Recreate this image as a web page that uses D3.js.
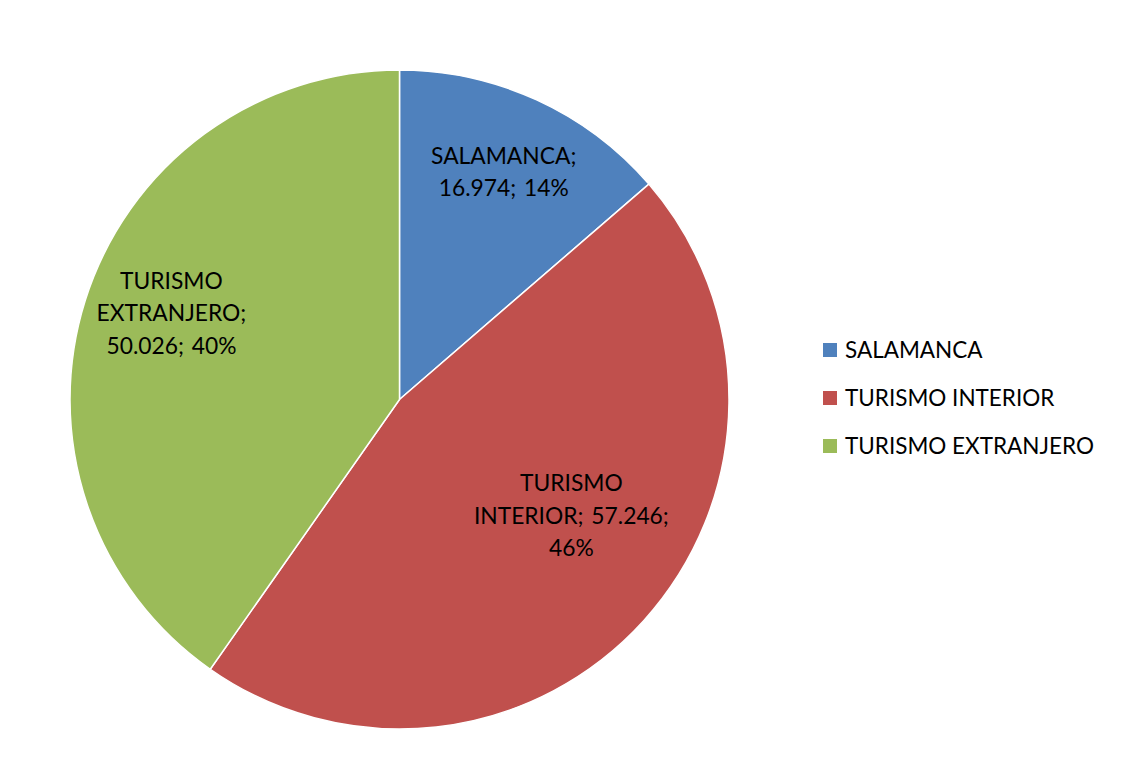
<!DOCTYPE html>
<html><head><meta charset="utf-8">
<script src="https://cdn.jsdelivr.net/npm/d3@7"></script>
<style>body{margin:0;background:#fff}svg{display:block}text{font-family:Lato,"Open Sans",sans-serif;fill:#000}</style>
</head><body><svg id="c" width="1136" height="767"></svg>
<script>
const categories = ["SALAMANCA", "TURISMO INTERIOR", "TURISMO EXTRANJERO"];
const values = [16.974, 57.246, 50.026];
const valueLabels = ["16.974", "57.246", "50.026"];
const percentLabels = ["14%", "46%", "40%"];
const colors = ["#4F81BD", "#C0504D", "#9BBB59"];
// label line breaks as wrapped in the original
const labelLines = [
  ["SALAMANCA;", "16.974; 14%"],
  ["TURISMO", "INTERIOR; 57.246;", "46%"],
  ["TURISMO", "EXTRANJERO;", "50.026; 40%"]
];
// label placement: [radius fraction, angle offset deg]
const labelPlace = [[0.76, 0], [0.63, -8], [0.74, 3.2]];

const svg = d3.select("#c");
const cx = 399.5, cy = 399.5, R = 329.5;
const pie = d3.pie().sort(null).value(d => d);
const arcs = pie(values);
const arc = d3.arc().innerRadius(0).outerRadius(R);
const g = svg.append("g").attr("transform", `translate(${cx},${cy})`);
g.selectAll("path").data(arcs).join("path")
  .attr("d", arc).attr("fill", (d, i) => colors[i])
  .attr("stroke", "#fff").attr("stroke-width", 1.5);

const fs = 22.8, lh = 32.5;
arcs.forEach((d, i) => {
  const [rf, off] = labelPlace[i];
  const a = (d.startAngle + d.endAngle) / 2 + off * Math.PI / 180;
  const x = Math.sin(a) * R * rf, y = -Math.cos(a) * R * rf;
  const lines = labelLines[i];
  const t = g.append("text").attr("text-anchor", "middle").attr("font-size", fs).attr("word-spacing", 2);
  lines.forEach((l, k) => {
    t.append("tspan").attr("x", x)
      .attr("y", y + (k - (lines.length - 1) / 2) * lh + fs * 0.35)
      .text(l);
  });
});

const leg = svg.append("g").attr("transform", "translate(823,343)");
categories.forEach((c, i) => {
  const row = leg.append("g").attr("transform", `translate(0,${i * 48})`);
  row.append("rect").attr("width", 14).attr("height", 14).attr("fill", colors[i]);
  row.append("text").attr("x", 22).attr("y", 7).attr("dy", "0.35em").attr("font-size", 22.5).text(c);
});
</script></body></html>
